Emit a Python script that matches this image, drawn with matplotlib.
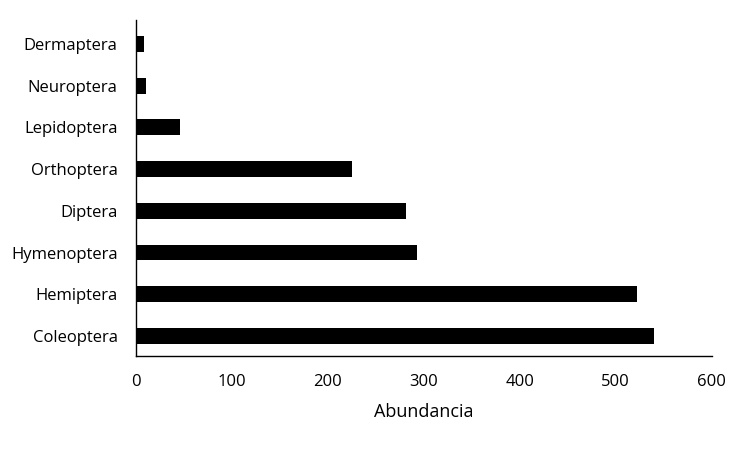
import matplotlib
matplotlib.use("Agg")
import matplotlib.pyplot as plt

# datos
ordenes = ["Coleoptera", "Hemiptera", "Hymenoptera", "Diptera",
           "Orthoptera", "Lepidoptera", "Neuroptera", "Dermaptera"]
abundancia = [540, 522, 293, 282, 225, 46, 11, 9]
xticks = [0, 100, 200, 300, 400, 500, 600]

plt.rcParams['font.family'] = ['Open Sans', 'DejaVu Sans']

fig = plt.figure(figsize=(7.5, 4.5), dpi=100)
ax = fig.add_axes([0.181, 0.209, 0.768, 0.747])

ax.barh(ordenes, abundancia, height=0.38, color='black')
ax.set_xlim(0, 600)
ax.set_ylim(-0.48, len(ordenes) - 0.42)
ax.set_xticks(xticks)
ax.tick_params(axis='both', length=0, labelsize=12)
ax.tick_params(axis='x', pad=13)
ax.tick_params(axis='y', pad=13)
ax.set_xlabel('Abundancia', fontsize=13, labelpad=9)

for s in ['top', 'right']:
    ax.spines[s].set_visible(False)
ax.spines['left'].set_linewidth(1)
ax.spines['bottom'].set_linewidth(1)

fig.savefig('out.png', dpi=100)
